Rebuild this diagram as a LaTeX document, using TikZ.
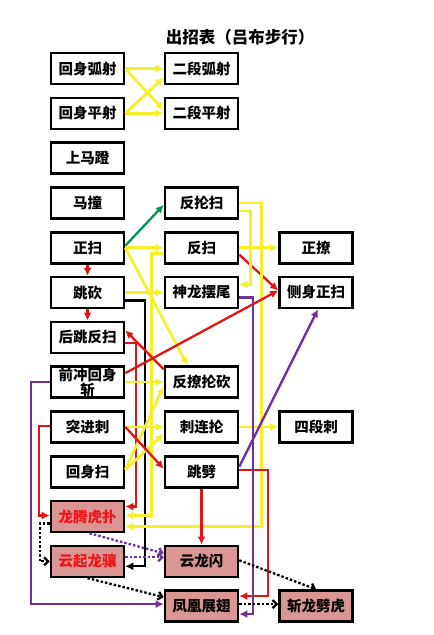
\documentclass[tikz,border=0pt]{standalone}
\usepackage{fontspec}
\setmainfont{Noto Sans CJK SC}
\usepackage{tikz}
\usetikzlibrary{arrows.meta, calc}

\definecolor{yel}{RGB}{245,240,40}
\definecolor{grn}{RGB}{0,150,80}
\definecolor{rd}{RGB}{228,20,20}
\definecolor{ppl}{RGB}{112,48,160}
\definecolor{pinkfill}{RGB}{218,150,148}
\definecolor{redtext}{RGB}{240,20,20}

\begin{document}
\begin{tikzpicture}[x=1pt, y=-1pt,
    box/.style={draw, line width=2.6pt, fill=white, minimum width=73pt, minimum height=31pt, inner sep=0pt, font=\fontsize{14.5}{15}\selectfont\bfseries},
    pinkbox/.style={box, fill=pinkfill},
    yl/.style={draw=yel, line width=2.7pt, -{Latex[length=8pt,width=8pt]}},
    gr/.style={draw=grn, line width=2.3pt, -{Latex[length=8pt,width=8pt]}},
    rl/.style={draw=rd, line width=2.3pt, -{Latex[length=8pt,width=8pt]}},
    pl/.style={draw=ppl, line width=2.3pt, -{Latex[length=8pt,width=8pt]}},
    bl/.style={draw=black, line width=2.3pt, -{Latex[length=8pt,width=8pt]}},
    pldot/.style={draw=ppl, line width=2.3pt, dash pattern=on 2.5pt off 2pt, -{Straight Barb[length=4pt,width=8pt]}},
    bldot/.style={draw=black, line width=2.3pt, dash pattern=on 2.5pt off 2pt, -{Straight Barb[length=4pt,width=8pt]}}]
    \useasboundingbox (0,0) rectangle (434,635);

    \node[font=\fontsize{16.5}{18}\selectfont\bfseries] (title) at (240,37) {出招表（吕布步行）};

    \node[box] (hshu) at (87.5,68.5) {回身弧射};
    \node[box] (edhu) at (201.5,68.5) {二段弧射};
    \node[box] (hspi) at (87.5,113.3) {回身平射};
    \node[box] (edpi) at (201.5,113.3) {二段平射};
    \node[box] (smd) at (87.5,158.1) {上马蹬};
    \node[box] (mz) at (87.5,202.9) {马撞};
    \node[box] (fqs) at (201.5,202.9) {反抡扫};
    \node[box] (zs) at (87.5,247.7) {正扫};
    \node[box] (fs) at (201.5,247.7) {反扫};
    \node[box] (zl) at (316,247.7) {正撩};
    \node[box] (tk) at (87.5,292.5) {跳砍};
    \node[box] (slbw) at (201.5,292.5) {神龙摆尾};
    \node[box] (cszs) at (316,292.5) {侧身正扫};
    \node[box] (htfs) at (87.5,337.3) {后跳反扫};
    \node[box, align=center] (qchs) at (87.5,382.1) {前冲回身\\斩};
    \node[box] (flqk) at (201.5,382.1) {反撩抡砍};
    \node[box] (tjc) at (87.5,426.9) {突进刺};
    \node[box] (clq) at (201.5,426.9) {刺连抡};
    \node[box] (sdc) at (316,426.9) {四段刺};
    \node[box] (hss) at (87.5,471.7) {回身扫};
    \node[box] (tp) at (201.5,471.7) {跳劈};
    \node[pinkbox, text=redtext] (lthp) at (87.5,516.5) {龙腾虎扑};
    \node[pinkbox, text=redtext] (yqlx) at (87.5,561.3) {云起龙骧};
    \node[pinkbox] (yls) at (201.5,561.3) {云龙闪};
    \node[pinkbox] (fhzc) at (201.5,606.1) {凤凰展翅};
    \node[pinkbox] (zlph) at (316,606.1) {斩龙劈虎};

    \draw[yl] (hshu.east) -- (edhu.west);
    \draw[yl] (hshu.east) -- ($(edpi.west)+(0,-3)$);
    \draw[yl] (hspi.east) -- (edpi.west);
    \draw[yl] (hspi.east) -- ($(edhu.west)+(0,9)$);

    \draw[gr] ($(zs.east)+(0,-2)$) -- ($(fqs.west)+(0,2)$);
    \draw[yl] (zs.east) -- (fs.west);
    \draw[yl] (zs.east) -- ($(flqk.north)+(-14,0)$);
    \draw[rl] (zs.south) -- (tk.north);
    \draw[rl] (tk.south) -- (htfs.north);
    \draw[yl] (tk.east) -- (slbw.west);
    \draw[bl] ($(tk.east)+(0,8)$) -- ++(20,0) |- ($(yqlx.east)+(0,5)$);

    \draw[yl] (fs.east) -- (zl.west);
    \draw[rl] ($(fs.east)+(0,7)$) -- ($(cszs.west)+(0,-2)$);
    \draw[yl] ($(fqs.east)+(0,8)$) -- ++(11,0) |- ($(slbw.east)+(0,-8)$);
    \draw[yl] (fqs.east) -- ++(22.5,0) |- ($(lthp.east)+(0,10)$);
    \draw[yl] ($(fs.west)+(0,6)$) -- ++(-12.5,0) |- ($(lthp.east)+(0,-1)$);
    \draw[rl] ($(htfs.east)+(0,6)$) -- ++(11,0) |- ($(lthp.east)+(0,-10)$);

    \draw[rl] ($(qchs.east)+(0,-9)$) -- ($(cszs.west)+(0,-2)$);
    \draw[rl] ($(flqk.north west)+(0,4)$) -- ($(htfs.east)+(0,-7)$);
    \draw[yl] (qchs.east) -- (flqk.west);
    \draw[yl] ($(hss.east)+(0,-2)$) -- ($(flqk.west)+(0,4)$);
    \draw[yl] ($(hss.east)+(0,-2)$) -- ($(clq.west)+(0,7)$);
    \draw[yl] (tjc.east) -- (clq.west);
    \draw[yl] (clq.east) -- (sdc.west);
    \draw[rl] (tjc.east) -- ($(tp.west)+(0,-3)$);
    \draw[rl] ($(tjc.west)+(0,-1)$) -- ++(-11,0) |- ($(lthp.west)+(0,-1)$);

    \draw[rl] (tp.south) -- (yls.north);
    \draw[rl] ($(tp.east)+(0,-2)$) -- ++(28.5,0) |- ($(fhzc.east)+(0,-10)$);
    \draw[pl] ($(tp.east)+(0,-5)$) -- ($(cszs.south)+(2,0)$);
    \draw[pl] ($(slbw.east)+(0,5)$) -- ++(13.5,0) |- ($(fhzc.east)+(0,8)$);
    \draw[pl] (qchs.west) -- ++(-19,0) |- ($(fhzc.west)+(0,-2)$);

    \draw[pldot] ($(lthp.south)+(2,0)$) -- ($(yls.west)+(0,-8)$);
    \draw[pldot] ($(yqlx.east)+(0,-4)$) -- ($(yls.west)+(0,-4)$);
    \draw[bldot] ($(lthp.west)+(0,7)$) -- ++(-10,0) |- (yqlx.west);
    \draw[bldot] (yqlx.south) -- ($(fhzc.west)+(0,-9)$);
    \draw[bldot] ($(yls.east)+(0,-1)$) -- (zlph.north);
    \draw[bldot] ($(fhzc.east)+(0,-2)$) -- ($(zlph.west)+(0,-2)$);
\end{tikzpicture}
\end{document}
